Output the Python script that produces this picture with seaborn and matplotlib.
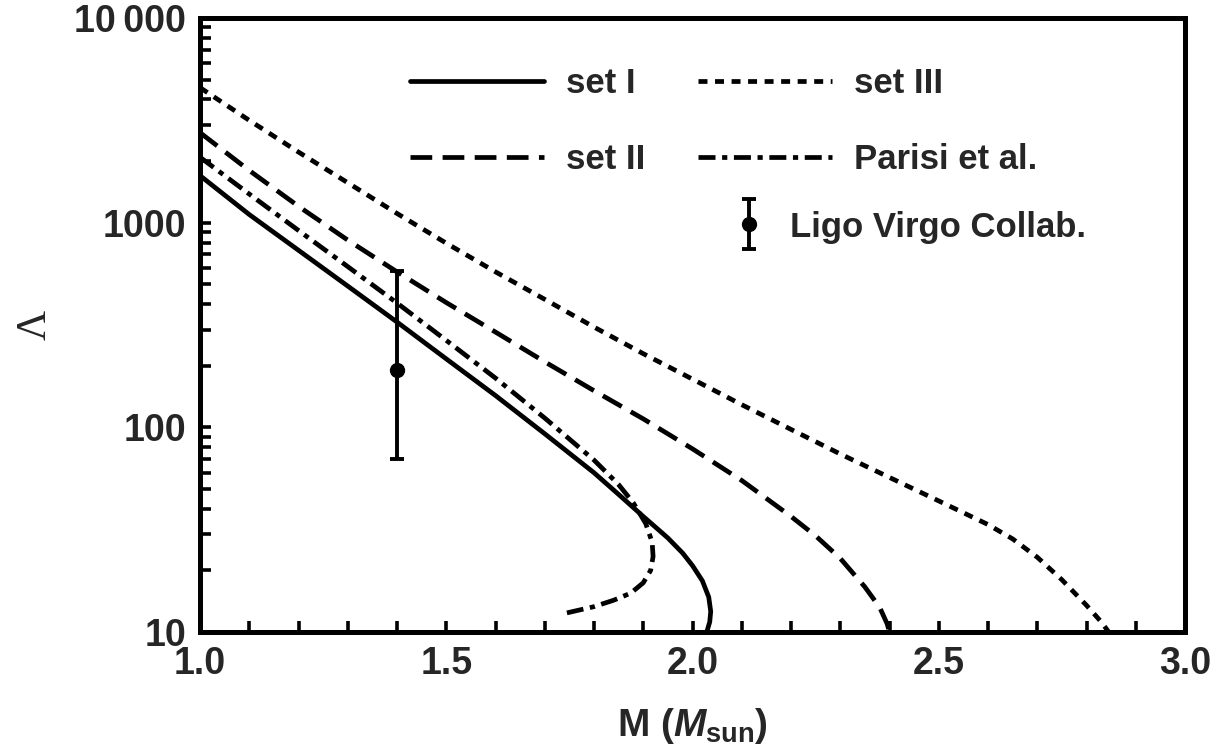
import numpy as np
import pandas as pd
import matplotlib
matplotlib.use("Agg")
import matplotlib.pyplot as plt
import seaborn as sns
from matplotlib.ticker import FixedLocator, FixedFormatter, LogLocator, NullFormatter, MultipleLocator
from matplotlib.container import ErrorbarContainer
from matplotlib.legend_handler import HandlerErrorbar

# ---------------- data ----------------
set1_M = [1.00, 1.10, 1.20, 1.30, 1.40, 1.50, 1.60, 1.70, 1.80, 1.85, 1.90, 1.95, 1.98, 2.00,
          2.02, 2.033, 2.037, 2.035, 2.029]
set1_L = [1698, 1096, 733, 490, 327, 216, 143, 93, 60, 47, 36.7, 28.8, 24.3, 21.1,
          17.8, 14.8, 12.6, 11.2, 10]

set2_M = [1.00, 1.10, 1.20, 1.30, 1.40, 1.50, 1.60, 1.70, 1.80, 1.90, 2.00, 2.10, 2.20, 2.25,
          2.30, 2.35, 2.38, 2.395, 2.40]
set2_L = [2754, 1799, 1202, 822, 575, 407, 292, 209, 151, 110, 78.5, 55, 36.7, 29.5,
          22.9, 16.6, 13.2, 11.0, 10]

set3_M = [1.00, 1.10, 1.20, 1.30, 1.40, 1.50, 1.60, 1.70, 1.80, 1.90, 2.00, 2.10, 2.20, 2.30,
          2.40, 2.50, 2.60, 2.65, 2.70, 2.75, 2.80, 2.83, 2.845]
set3_L = [4571, 3162, 2213, 1567, 1109, 794, 575, 422, 309, 229, 172, 129, 97.7, 74.1,
          56.9, 43.7, 33.5, 28.5, 23.2, 18.0, 13.5, 11.2, 10]

parisi_M = [1.00, 1.10, 1.20, 1.30, 1.40, 1.50, 1.60, 1.70, 1.80, 1.85, 1.88, 1.905, 1.918,
            1.92, 1.915, 1.90, 1.875, 1.84, 1.80, 1.745]
parisi_L = [2089, 1380, 916, 610, 405, 266, 174, 111, 69.2, 52.5, 42.7, 33.9, 27.5,
            23.4, 20.0, 17.4, 15.5, 14.3, 13.3, 12.4]

ligo_M = [1.4]
ligo_L = [190]
ligo_err_lo = [120]
ligo_err_hi = [390]

x_ticks = [1.0, 1.5, 2.0, 2.5, 3.0]
x_tick_labels = ["1.0", "1.5", "2.0", "2.5", "3.0"]
y_ticks = [10, 100, 1000, 10000]
y_tick_labels = ["10", "100", "1000", "10\u2009000"]

labels = ["set I", "set II", "set III", "Parisi et al.", "Ligo Virgo Collab."]

# ---------------- style ----------------
sns.set_style("white")
plt.rcParams["font.family"] = ["Liberation Sans", "DejaVu Sans"]
plt.rcParams["font.weight"] = "bold"
plt.rcParams["mathtext.fontset"] = "custom"
plt.rcParams["mathtext.rm"] = "Liberation Sans:bold"
plt.rcParams["mathtext.bf"] = "Liberation Sans:bold"
plt.rcParams["mathtext.it"] = "Liberation Sans:italic:bold"

W, H = 1217, 752
fig = plt.figure(figsize=(W / 100, H / 100), dpi=100)
ax = fig.add_axes([200 / W, 1 - 632 / H, (1185 - 200) / W, (632 - 18) / H])

lw = 3.4
sns.lineplot(x=set1_M, y=set1_L, sort=False, estimator=None, ax=ax, color="black",
             lw=lw, linestyle="-", label=labels[0])
sns.lineplot(x=set2_M, y=set2_L, sort=False, estimator=None, ax=ax, color="black",
             lw=lw, linestyle=(0, (4.6, 2.2)), label=labels[1])
sns.lineplot(x=set3_M, y=set3_L, sort=False, estimator=None, ax=ax, color="black",
             lw=lw, linestyle=(0, (1.9, 1.6)), label=labels[2])
sns.lineplot(x=parisi_M, y=parisi_L, sort=False, estimator=None, ax=ax, color="black",
             lw=lw, linestyle=(0, (3.6, 1.4, 1.1, 1.4)), label=labels[3])

eb = ax.errorbar(ligo_M, ligo_L, yerr=[ligo_err_lo, ligo_err_hi], fmt="o", color="black",
                 ms=10, elinewidth=2.8, capsize=4.7, capthick=2.8, label=labels[4])

ax.set_yscale("log")
ax.set_xlim(1.0, 3.0)
ax.set_ylim(10, 10000)

ax.xaxis.set_major_locator(FixedLocator(x_ticks))
ax.xaxis.set_major_formatter(FixedFormatter(x_tick_labels))
ax.xaxis.set_minor_locator(MultipleLocator(0.1))
ax.yaxis.set_major_locator(FixedLocator(y_ticks))
ax.yaxis.set_major_formatter(FixedFormatter(y_tick_labels))
ax.yaxis.set_minor_locator(LogLocator(base=10, subs=np.arange(2, 10)))
ax.yaxis.set_minor_formatter(NullFormatter())

ax.tick_params(axis="both", which="both", direction="in", length=8, width=2.6,
               bottom=True, left=True, top=False, right=False, color="black")
ax.tick_params(axis="both", which="major", labelsize=27, pad=10)
for lab in ax.get_xticklabels() + ax.get_yticklabels():
    lab.set_fontweight("bold")

for s in ax.spines.values():
    s.set_linewidth(3.6)
    s.set_color("black")
    s.set_visible(True)

ax.set_xlabel(r"M $(M_{\rm sun})$", fontsize=28, fontweight="bold", labelpad=17)
ax.set_ylabel("\u039b", fontsize=30, family=["Liberation Serif", "DejaVu Serif"],
              fontweight="normal", labelpad=14)

handles, labs = ax.get_legend_handles_labels()
hd = dict(zip(labs, handles))

leg_fs = 25
leg1 = ax.legend([hd["set I"], hd["set II"], hd["set III"], hd["Parisi et al."]],
                 ["set I", "set II", "set III", "Parisi et al."],
                 ncol=2, frameon=False, fontsize=leg_fs,
                 loc="upper left", bbox_to_anchor=(410 / W, 1 - 67 / H),
                 bbox_transform=fig.transFigure, borderpad=0, borderaxespad=0,
                 handlelength=3.86, handletextpad=0.63, columnspacing=1.53,
                 labelspacing=1.24)
for t in leg1.get_texts():
    t.set_fontweight("bold")
ax.add_artist(leg1)

leg2 = ax.legend([hd["Ligo Virgo Collab."]], ["Ligo Virgo Collab."],
                 frameon=False, fontsize=leg_fs,
                 loc="center left", bbox_to_anchor=(714 / W, 1 - 227 / H),
                 bbox_transform=fig.transFigure, borderpad=0, borderaxespad=0,
                 handlelength=2.0, handletextpad=0.2,
                 handler_map={ErrorbarContainer: HandlerErrorbar(yerr_size=0.72)})
for t in leg2.get_texts():
    t.set_fontweight("bold")

fig.savefig("out.png", dpi=100)
